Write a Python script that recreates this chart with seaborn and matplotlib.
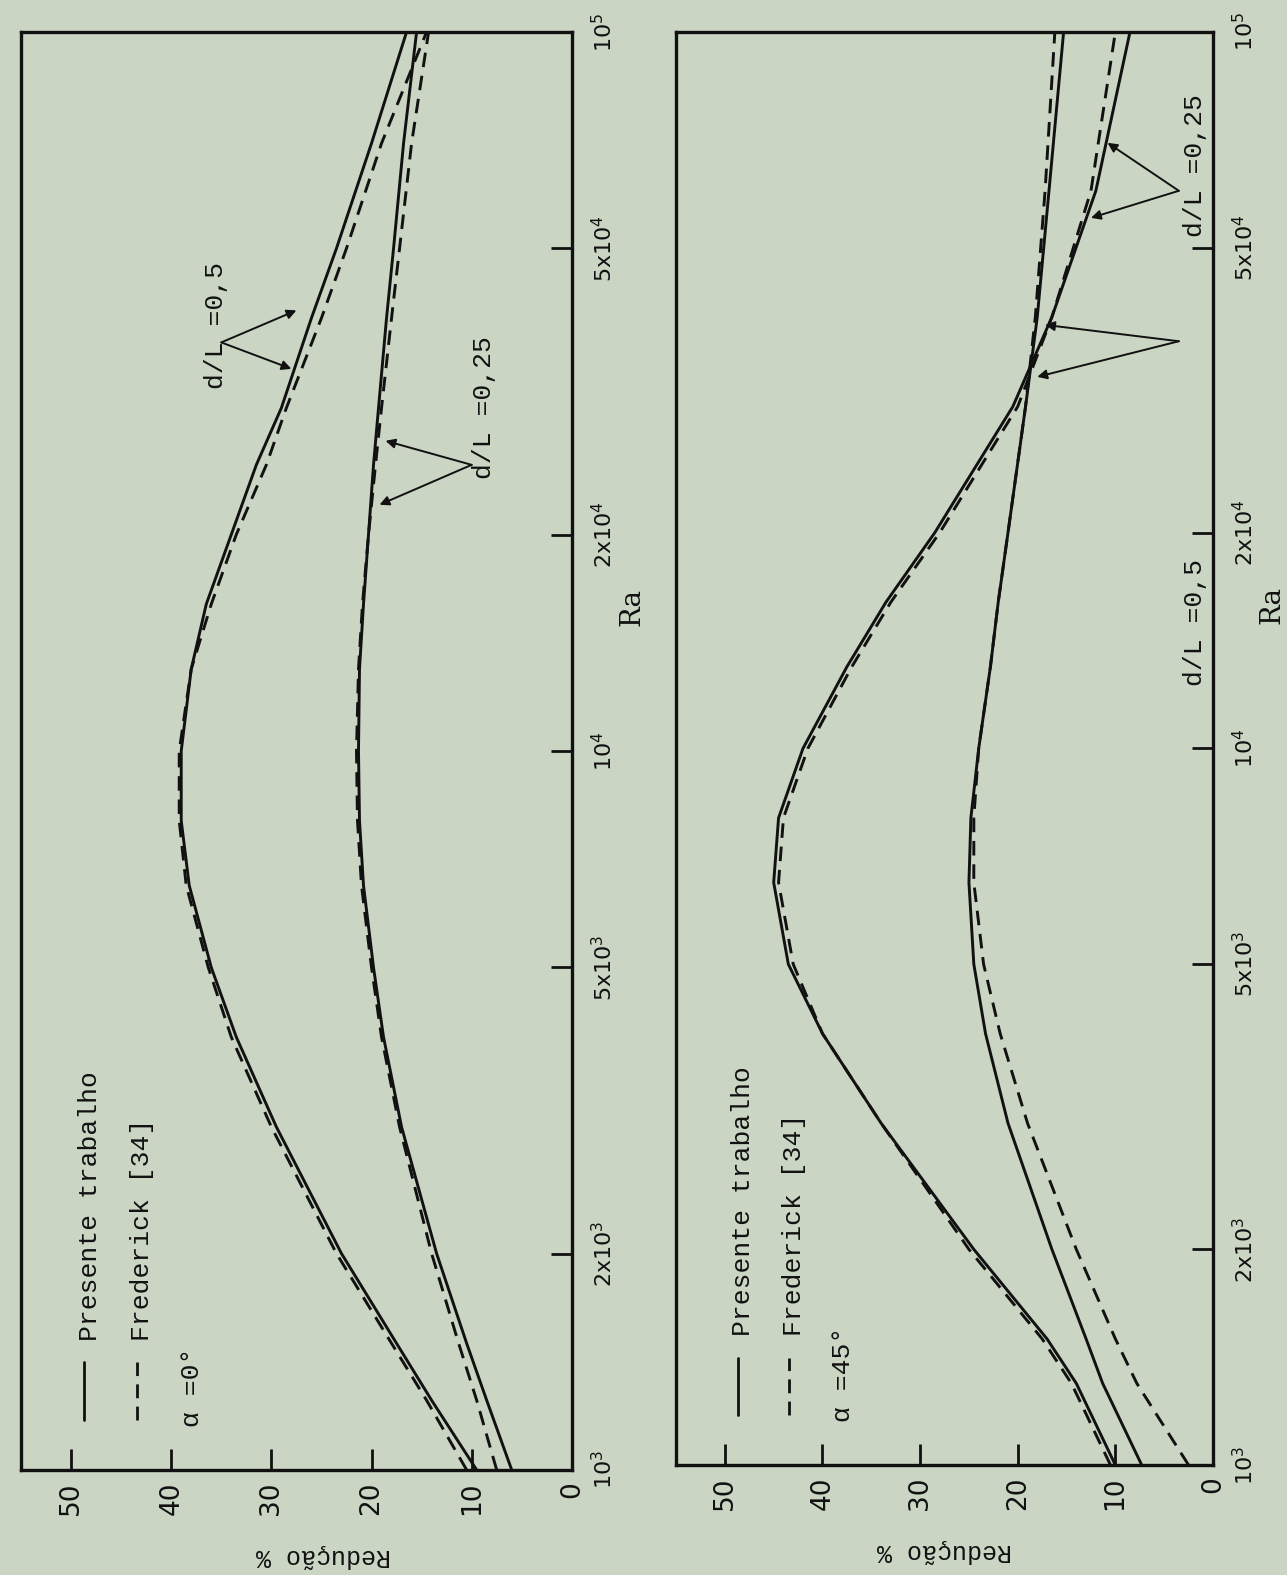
import matplotlib
matplotlib.use('Agg')
import matplotlib.pyplot as plt
import seaborn as sns

sns.set_theme(style='white')
plt.rcParams['font.family'] = ['DejaVu Sans']
plt.rcParams['mathtext.fontset'] = 'dejavusans'

paper = '#cbd5c4'
ink = '#111111'

# ---- data (Redução % vs Ra) ----
ra_a = [1000, 1250, 1500, 2000, 3000, 4000, 5000, 6500, 8000, 10000,
        13000, 16000, 20000, 25000, 30000, 40000, 50000, 70000, 100000]
a0_pres_05 = [9.5, 14, 17.5, 23, 29.5, 33.5, 36, 38.2, 39, 39,
              38, 36.5, 34, 31.5, 29, 26, 23.5, 20, 16.5]
a0_fred_05 = [10.5, 14.5, 18, 23.5, 30, 34, 36.3, 38.5, 39.2, 39.2,
              38, 36, 33.5, 30.5, 28.5, 25, 22.5, 19, 14.5]
a0_pres_025 = [6, 8.5, 10.5, 13.5, 17, 18.8, 19.8, 20.8, 21.2, 21.3,
               21.2, 20.8, 20.3, 19.8, 19.3, 18.5, 17.8, 16.8, 15.5]
a0_fred_025 = [7.5, 9.5, 11.3, 14, 17.2, 19, 20, 21, 21.4, 21.5,
               21.3, 20.9, 20.3, 19.6, 19, 18, 17.2, 16, 14.3]

ra_b = [1000, 1300, 1500, 2000, 3000, 4000, 5000, 6500, 8000, 10000, 13000,
        16000, 20000, 30000, 40000, 60000, 100000]
a45_pres_05 = [10, 14, 17, 24.5, 34, 40, 43.5, 45, 44.5, 42, 37.5,
               33.5, 28.5, 20.5, 16.5, 12, 8.5]
a45_fred_05 = [10.5, 14.5, 17.5, 25, 34, 40, 43, 44.5, 44, 41.5, 37,
               33, 28, 20, 16.5, 12.5, 10]
a45_pres_025 = [7.3, 11.3, 13, 16.5, 21, 23.3, 24.5, 25, 24.8, 24, 22.8,
                22, 21, 19.2, 18, 16.8, 15.3]
a45_fred_025 = [2.5, 7.8, 10, 14, 19, 21.8, 23.5, 24.5, 24.5, 24, 22.8,
                22, 21, 19.2, 18.2, 17.2, 16.2]

ra_ticks = [1e3, 2e3, 5e3, 1e4, 2e4, 5e4, 1e5]
ra_labels = [r'$10^3$', r'$2\mathrm{x}10^3$', r'$5\mathrm{x}10^3$', r'$10^4$',
             r'$2\mathrm{x}10^4$', r'$5\mathrm{x}10^4$', r'$10^5$']
red_ticks = [0, 10, 20, 30, 40, 50]

fig = plt.figure(figsize=(12.87, 15.75), dpi=100, facecolor=paper)
ax1 = fig.add_axes([0.0163, 0.0667, 0.428, 0.913])
ax2 = fig.add_axes([0.5253, 0.0698, 0.4172, 0.910])

mono = 'Liberation Mono'
dash = (0, (5, 3))


def draw_panel(ax, ra, curves, alpha_txt, red_x):
    ax.set_facecolor(paper)
    for vals, ls in curves:
        sns.lineplot(x=vals, y=ra, sort=False, estimator=None, ax=ax,
                     color=ink, lw=2.1, linestyle=ls)
    ax.set_yscale('log')
    ax.set_ylim(1e3, 1e5)
    ax.set_xlim(55, 0)
    ax.minorticks_off()
    ax.yaxis.tick_right()
    ax.set_yticks(ra_ticks)
    ax.set_yticklabels(ra_labels)
    ax.set_xticks(red_ticks)
    ax.set_xticklabels([str(t) for t in red_ticks])
    ax.tick_params(axis='y', direction='in', length=15, width=2, colors=ink,
                   labelrotation=90, labelsize=16, pad=14, right=True, left=False)
    ax.tick_params(axis='x', direction='in', length=15, width=2, colors=ink,
                   labelrotation=90, labelsize=19, pad=8, bottom=True, top=False)
    for lab in ax.get_yticklabels():
        lab.set_va('center')
    for sp in ax.spines.values():
        sp.set_color(ink)
        sp.set_linewidth(2.4)
    ax.set_xlabel('')
    ax.set_ylabel('')
    ax.text(red_x, -0.06, 'Redução %', transform=ax.transAxes, rotation=180,
            ha='center', va='center', fontsize=18, family=mono, color=ink)
    ax.text(1.11, 0.6, 'Ra', transform=ax.transAxes, rotation=90,
            ha='center', va='center', fontsize=20, family='DejaVu Serif', color=ink)
    # hand drawn legend (rotated like the page)
    ax.plot([0.115, 0.115], [0.035, 0.075], color=ink, lw=2.0, transform=ax.transAxes)
    ax.plot([0.21, 0.21], [0.035, 0.075], color=ink, lw=2.0, linestyle=dash,
            transform=ax.transAxes)
    ax.text(0.125, 0.09, 'Presente trabalho', transform=ax.transAxes, rotation=90,
            ha='center', va='bottom', fontsize=19, family=mono, color=ink)
    ax.text(0.22, 0.09, 'Frederick [34]', transform=ax.transAxes, rotation=90,
            ha='center', va='bottom', fontsize=19, family=mono, color=ink)
    ax.text(0.31, 0.03, alpha_txt, transform=ax.transAxes, rotation=90,
            ha='center', va='bottom', fontsize=19, family=mono, color=ink)


draw_panel(ax1, ra_a, [(a0_pres_05, '-'), (a0_fred_05, dash),
                       (a0_pres_025, '-'), (a0_fred_025, dash)], 'α =0°', 0.55)
draw_panel(ax2, ra_b, [(a45_pres_05, '-'), (a45_fred_05, dash),
                       (a45_pres_025, '-'), (a45_fred_025, dash)], 'α =45°', 0.5)

arrow = dict(arrowstyle='-|>', color=ink, lw=1.4, mutation_scale=14, shrinkA=0, shrinkB=0)


def pointer(ax, label, txt_xy, vertex, targets):
    ax.text(txt_xy[0], txt_xy[1], label, rotation=90, ha='center', va='center',
            fontsize=19, family=mono, color=ink)
    for t in targets:
        ax.annotate('', xy=t, xytext=vertex, arrowprops=arrow)


pointer(ax1, 'd/L =0,5', (35.5, 3.9e4), (35.0, 3.7e4), [(27.5, 4.1e4), (28.0, 3.4e4)])
pointer(ax1, 'd/L =0,25', (8.8, 3.0e4), (10.0, 2.5e4), [(18.6, 2.7e4), (19.2, 2.2e4)])
pointer(ax2, 'd/L =0,25', (1.8, 6.5e4), (3.5, 3.7e4), [(17.2, 3.9e4), (18.0, 3.3e4)])
pointer(ax2, 'd/L =0,5', (1.8, 1.5e4), (3.5, 6.0e4), [(10.8, 7.0e4), (12.5, 5.5e4)])

fig.savefig('out.png', dpi=100, facecolor=paper)
